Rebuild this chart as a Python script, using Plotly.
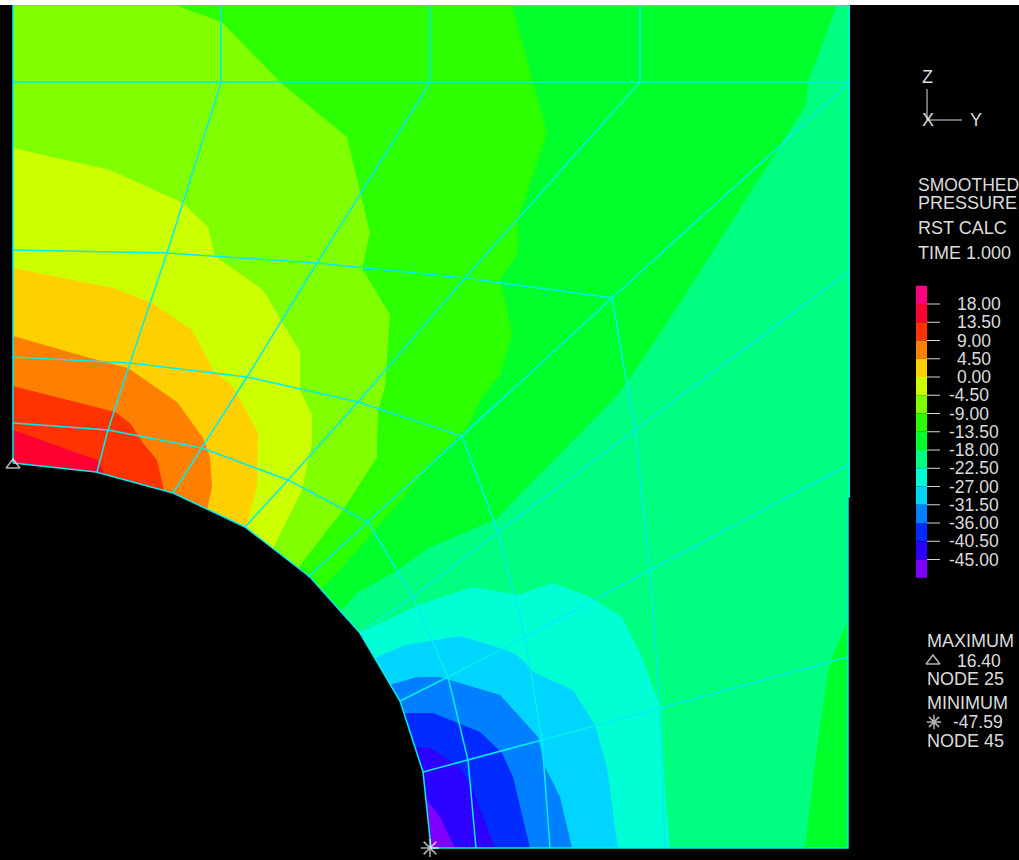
import plotly.graph_objects as go

W, H = 1019, 860

# Contour bands, outermost first. Each value is the lower edge of the band.
band_levels = [18.0, 13.5, 9.0, 4.5, 0.0, -4.5, -9.0, -13.5, -18.0, -22.5, -27.0, -31.5, -36.0, -40.5, -45.0]
band_colors = ["#ff0080", "#ff0033", "#ff3300", "#ff8000", "#ffd000", "#ccff00", "#80ff00", "#2bff00",
               "#00ff2b", "#00ff80", "#00ffd5", "#00d5ff", "#0080ff", "#002bff", "#2b00ff", "#8000ff"]
tick_labels = ["18.00", "13.50", "9.00", "4.50", "0.00", "-4.50", "-9.00", "-13.50", "-18.00",
               "-22.50", "-27.00", "-31.50", "-36.00", "-40.50", "-45.00"]

domain_outline = [(13, 5), (850, 5), (850, 497), (848, 497), (848, 848), (431, 848), (13, 463)]
hole_outline = [(0, 463), (13, 463), (96, 472), (173, 493), (245, 527), (310, 577), (340, 611), (360, 633),
                (400, 701), (423, 772), (431, 848), (431, 860), (0, 860)]

# Filled regions drawn in order (colour, polygon)
region_m22 = domain_outline
region_m18 = [(13, 5), (837, 5), (808, 82), (806, 105), (682, 300), (627, 383), (613, 400), (497, 518),
              (487, 523), (428, 548), (398, 570), (357, 593), (340, 612), (13, 612)]
region_m18_corner = [(848, 620), (832, 658), (828, 673), (817, 747), (805, 848), (848, 848)]
region_m135 = [(13, 5), (512, 5), (533, 82), (547, 133), (518, 220), (518, 253), (500, 280), (505, 300),
               (512, 335), (500, 375), (480, 400), (468, 427), (440, 455), (377, 528), (340, 570), (320, 590),
               (13, 590)]
region_m9 = [(13, 5), (175, 5), (222, 22), (280, 82), (347, 137), (370, 233), (362, 268), (390, 315),
             (385, 387), (378, 410), (377, 457), (343, 510), (298, 568), (13, 568)]
region_m45 = [(13, 148), (110, 170), (183, 203), (208, 227), (215, 256), (263, 290), (300, 352), (300, 390),
              (312, 415), (312, 443), (302, 490), (272, 550), (13, 550)]
region_0 = [(13, 268), (113, 288), (152, 303), (192, 330), (213, 370), (233, 387), (258, 433), (257, 487),
            (245, 530), (13, 530)]
region_45 = [(13, 336), (90, 358), (128, 368), (177, 402), (203, 438), (210, 457), (212, 487), (207, 510), (13, 510)]
region_9 = [(13, 386), (115, 412), (130, 423), (143, 443), (157, 460), (165, 495), (13, 495)]
region_135 = [(13, 430), (97, 460), (107, 478), (13, 478)]
region_m27 = [(355, 640), (360, 633), (418, 605), (473, 587), (517, 595), (553, 583), (590, 597), (622, 617),
              (643, 660), (660, 707), (665, 793), (670, 848), (355, 848)]
region_m315 = [(370, 664), (375, 658), (405, 645), (460, 636), (500, 648), (517, 655), (535, 673), (573, 690),
               (595, 725), (607, 767), (618, 848), (370, 848)]
region_m36 = [(385, 690), (389, 685), (417, 677), (440, 677), (500, 695), (538, 737), (545, 767), (560, 797),
              (572, 848), (385, 848)]
region_m405 = [(400, 716), (403, 713), (433, 713), (480, 732), (502, 753), (513, 777), (530, 848), (400, 848)]
region_m45b = [(410, 750), (415, 747), (430, 748), (460, 767), (473, 790), (495, 848), (410, 848)]
region_min = [(420, 800), (427, 800), (440, 817), (455, 848), (420, 848)]

regions = [("#00ff80", region_m22), ("#00ff2b", region_m18), ("#00ff2b", region_m18_corner),
           ("#2bff00", region_m135), ("#80ff00", region_m9), ("#ccff00", region_m45), ("#ffd000", region_0),
           ("#ff8000", region_45), ("#ff3300", region_9), ("#ff0033", region_135),
           ("#00ffd5", region_m27), ("#00d5ff", region_m315), ("#0080ff", region_m36),
           ("#002bff", region_m405), ("#2b00ff", region_m45b), ("#8000ff", region_min)]

# Mesh lines
mesh_lines = [
    [(13, 5), (13, 463)],
    [(97, 472), (108, 430), (130, 363), (167, 253), (221, 83), (221, 5)],
    [(173, 493), (202, 448), (247, 377), (317, 263), (430, 83), (430, 5)],
    [(245, 527), (288, 480), (358, 402), (465, 278), (640, 82), (640, 5)],
    [(308, 577), (368, 522), (462, 436), (612, 298), (849, 83)],
    [(360, 633), (413, 597), (498, 532), (635, 430), (849, 272)],
    [(400, 701), (448, 677), (525, 637), (650, 570), (848, 465)],
    [(423, 772), (468, 760), (542, 740), (660, 708), (848, 657)],
    [(13, 423), (108, 430), (202, 448), (288, 480), (368, 522), (413, 597), (448, 677), (468, 760), (476, 848)],
    [(13, 357), (130, 363), (247, 377), (358, 402), (462, 436), (498, 532), (525, 637), (542, 740), (550, 848)],
    [(13, 250), (167, 253), (317, 263), (465, 278), (612, 298), (635, 430), (650, 570), (660, 708), (665, 848)],
    [(13, 82), (849, 82)],
    [(13, 463), (96, 472), (173, 493), (245, 527), (310, 577), (340, 611), (360, 633), (400, 701), (423, 772),
     (431, 848), (848, 848), (848, 497), (849, 497), (849, 5), (13, 5)],
]

triad_lines = [[(927, 89), (927, 120), (962, 120)]]
header_text = [("Z", 921, 77), ("X", 921, 120), ("Y", 969, 120), ("PRESSURE", 917, 203),
               ("RST CALC", 917, 228), ("TIME 1.000", 917, 253), ("MAXIMUM", 926, 641), ("NODE 25", 926, 679),
               ("MINIMUM", 926, 703), ("NODE 45", 926, 741)]
value_text = [("SMOOTHED", 917, 185), ("16.40", 956, 661), ("-47.59", 952, 722)]
max_points = [(13, 465), (933, 661)]
max_sizes = [12, 12]
min_points = [(430, 848), (934, 722)]
min_sizes = [15, 12]


def xs(pts):
    return [p[0] for p in pts]


def ys(pts):
    return [p[1] for p in pts]


fig = go.Figure()

for color, poly in regions:
    fig.add_trace(go.Scatter(x=xs(poly) + [poly[0][0]], y=ys(poly) + [poly[0][1]], mode="lines", fill="toself",
                             fillcolor=color, line=dict(width=0, color=color), hoverinfo="skip", showlegend=False))

fig.add_trace(go.Scatter(x=xs(hole_outline), y=ys(hole_outline), mode="lines", fill="toself", fillcolor="#000000",
                         line=dict(width=0, color="#000000"), hoverinfo="skip", showlegend=False))

for seg in mesh_lines:
    fig.add_trace(go.Scatter(x=xs(seg), y=ys(seg), mode="lines", line=dict(color="#00eeee", width=1.5),
                             hoverinfo="skip", showlegend=False))

# Colour scale on its own value axis
scale_tops = [18.0 + 4.5] + band_levels
fig.add_trace(go.Bar(x=[921.5] * 16, y=[4.5] * 16, base=[t - 4.5 for t in scale_tops], width=11,
                     marker=dict(color=band_colors, line=dict(width=0)), yaxis="y2", hoverinfo="skip",
                     showlegend=False))
tick_x, tick_y = [], []
for lv in band_levels:
    tick_x += [927, 940, None]
    tick_y += [lv, lv, None]
fig.add_trace(go.Scatter(x=tick_x, y=tick_y, yaxis="y2", mode="lines", line=dict(color="#d8d8d8", width=1),
                         hoverinfo="skip", showlegend=False))

for seg in triad_lines:
    fig.add_trace(go.Scatter(x=xs(seg), y=ys(seg), mode="lines", line=dict(color="#e0e0e0", width=1),
                             hoverinfo="skip", showlegend=False))
fig.add_trace(go.Scatter(x=xs(max_points), y=ys(max_points), mode="markers",
                         marker=dict(symbol="triangle-up-open", size=max_sizes, color="#ffffff",
                                     line=dict(color="#ffffff", width=1.5)), hoverinfo="skip", showlegend=False))
fig.add_trace(go.Scatter(x=xs(min_points), y=ys(min_points), mode="markers",
                         marker=dict(symbol="asterisk-open", size=min_sizes, color="#ffffff",
                                     line=dict(color="#ffffff", width=1.5)), hoverinfo="skip", showlegend=False))

annotations = []
font_head = dict(family="Liberation Sans", size=18, color="#dcdcdc")
font_num = dict(family="Liberation Sans", size=17.5, color="#dcdcdc")
for txt, x, y in header_text:
    annotations.append(dict(x=x, y=y, xref="x", yref="y", text=txt, showarrow=False, xanchor="left",
                            yanchor="middle", font=font_head, borderpad=0))
for txt, x, y in value_text:
    annotations.append(dict(x=x, y=y, xref="x", yref="y", text=txt, showarrow=False, xanchor="left",
                            yanchor="middle", font=font_num, borderpad=0))
for lv, lab in zip(band_levels, tick_labels):
    annotations.append(dict(x=948 if lab.startswith("-") else 956, y=lv, xref="x", yref="y2", text=lab,
                            showarrow=False, xanchor="left", yanchor="middle", font=font_num, borderpad=0))

fig.update_layout(
    width=W, height=H, margin=dict(l=0, r=0, t=0, b=0), paper_bgcolor="#000000", plot_bgcolor="#000000",
    xaxis=dict(range=[0, W], visible=False, fixedrange=True),
    yaxis=dict(range=[H, 0], visible=False, fixedrange=True),
    yaxis2=dict(range=[-119.08, 92.95], visible=False, overlaying="y", fixedrange=True),
    annotations=annotations, barmode="overlay", showlegend=False,
    shapes=[dict(type="rect", x0=0, x1=W, y0=0, y1=5, xref="x", yref="y", fillcolor="#ffffff", line=dict(width=0))],
)

fig.write_html("out.html", config=dict(displayModeBar=False),
               post_script="document.body.style.margin='0';document.body.style.background='#000';")
